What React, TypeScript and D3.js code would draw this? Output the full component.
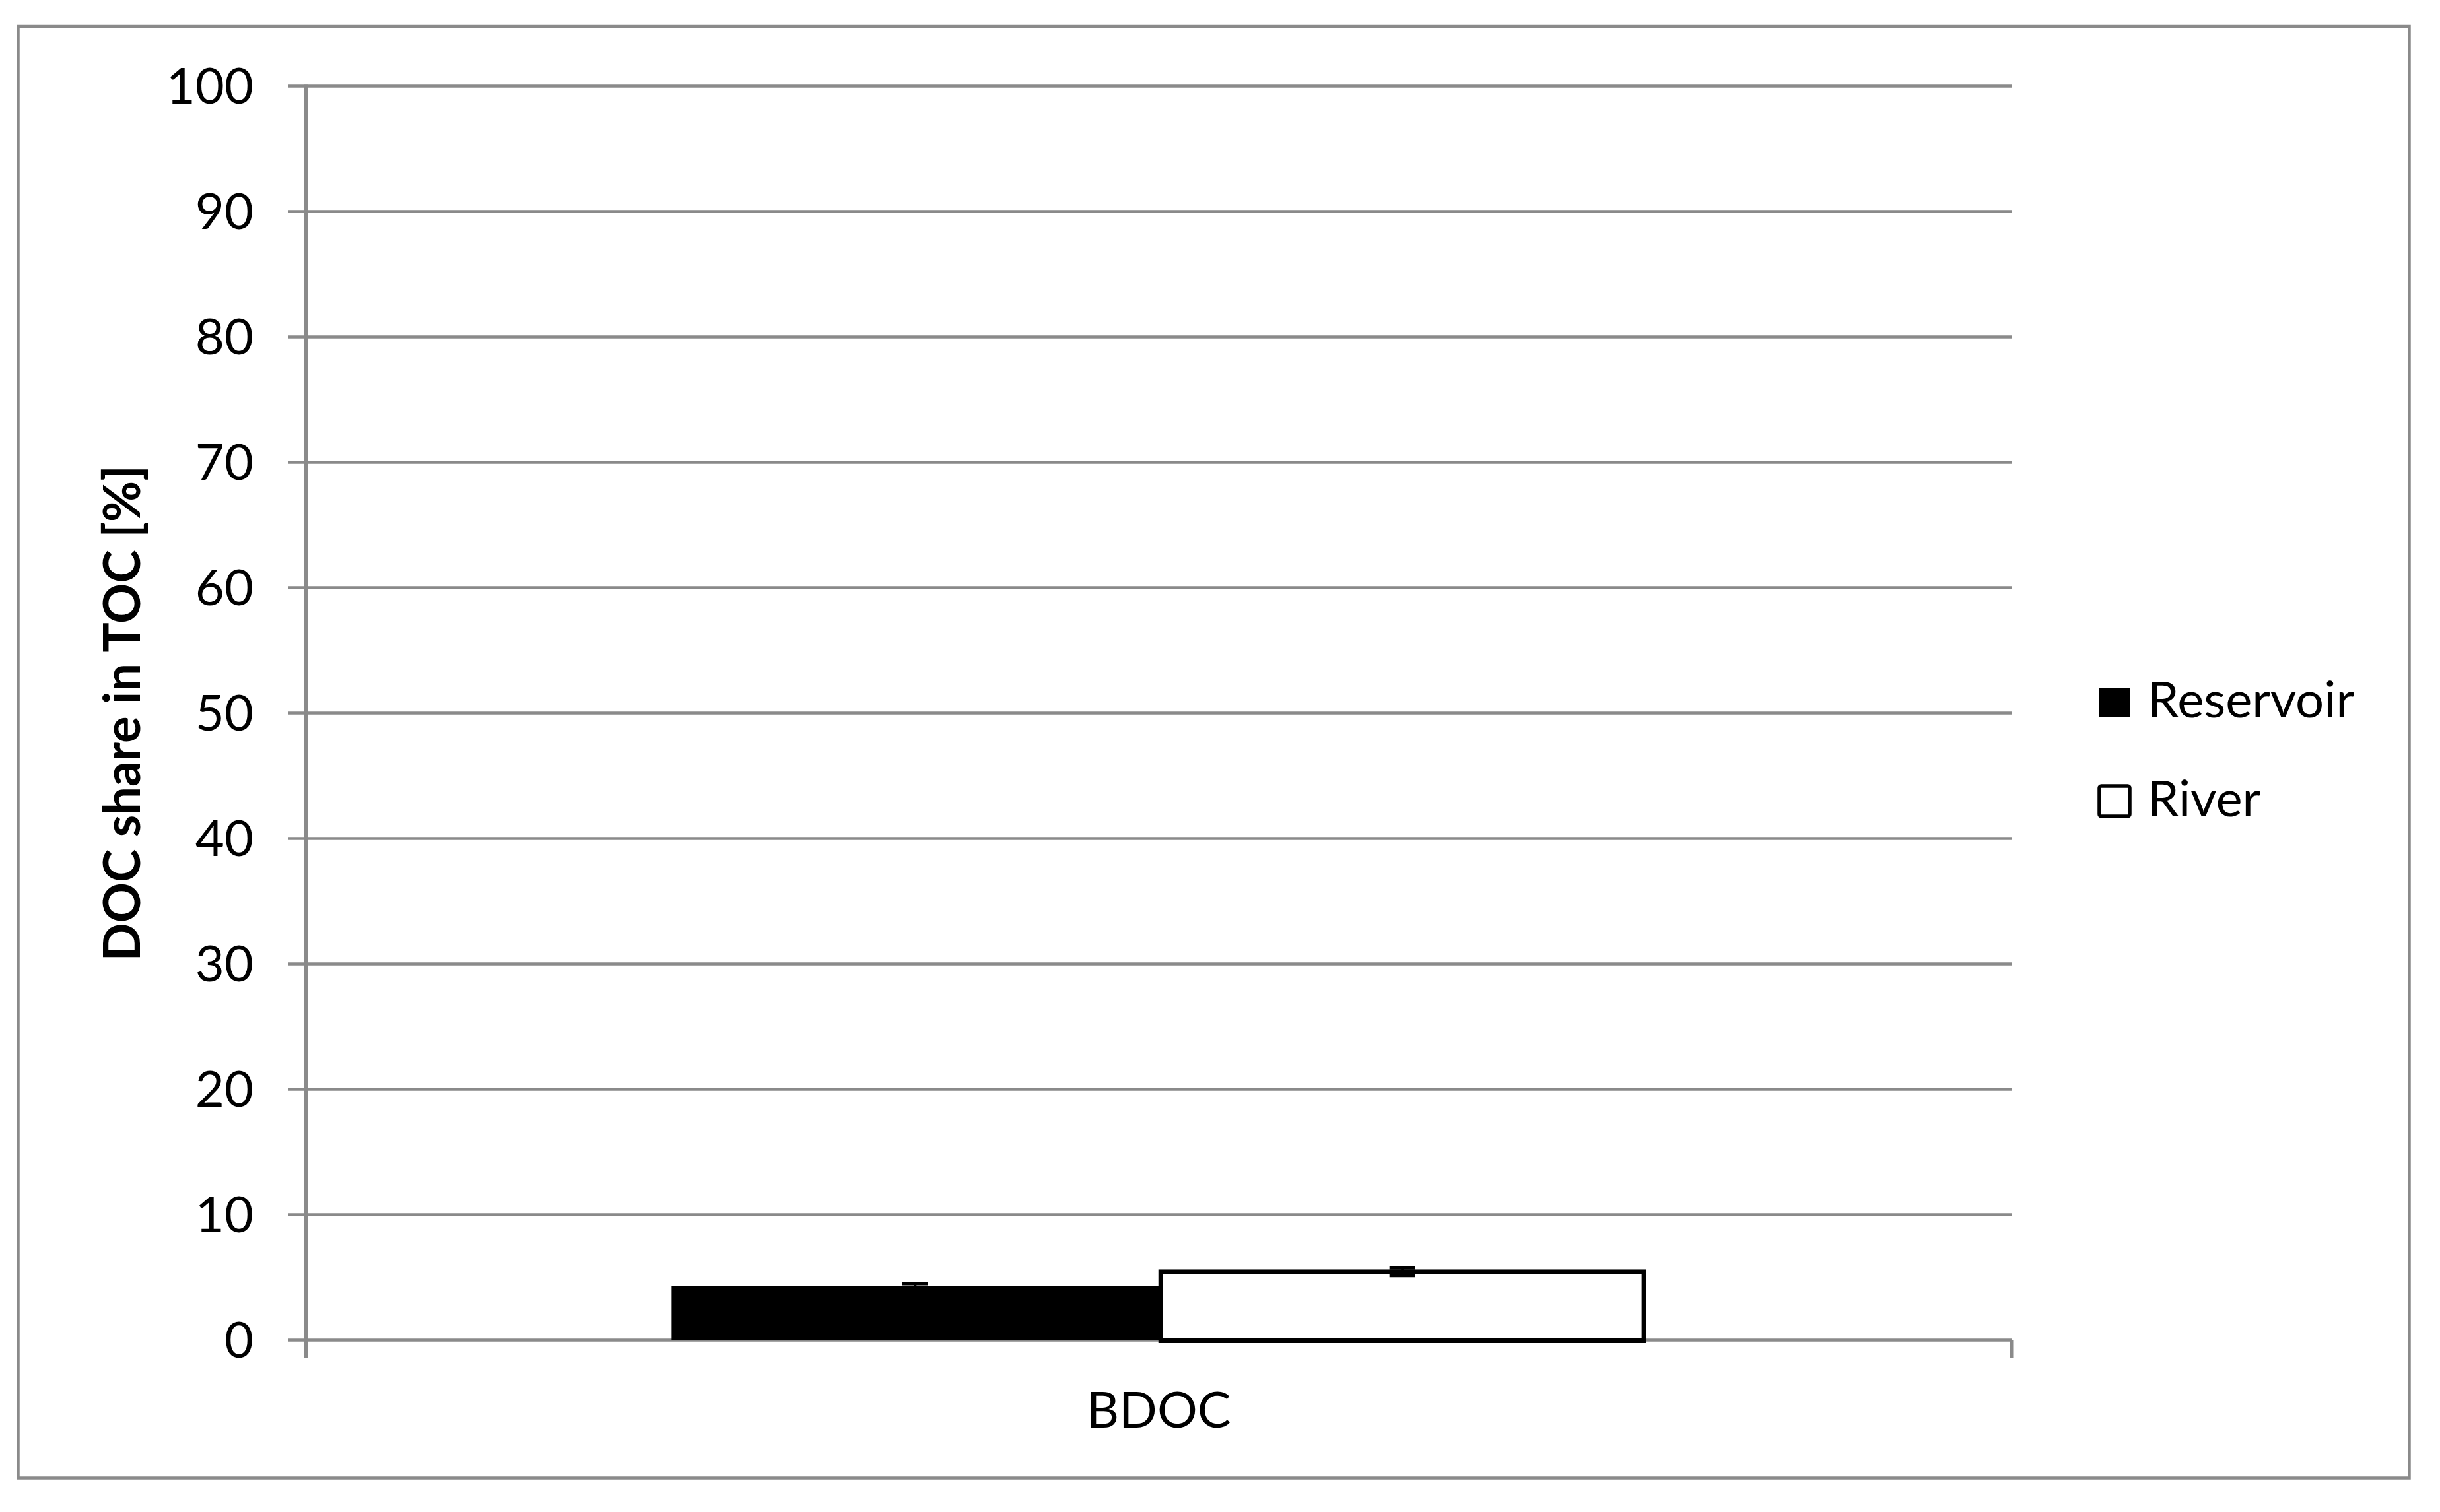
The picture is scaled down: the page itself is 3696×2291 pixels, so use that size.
import React from 'react';
import * as d3 from 'd3';

const categories = ['BDOC'];
const seriesNames = ['Reservoir', 'River'];
const seriesValues = [4.3, 5.45];
const seriesErrors = [0.2, 0.3];
const yTicks = [0, 10, 20, 30, 40, 50, 60, 70, 80, 90, 100];

const W = 3696;
const H = 2291;
const GRID = '#8a8a8a';
const FONT = 'Lato, "Open Sans", sans-serif';

export default function App() {
    const left = 463.5;
    const right = 3047;
    const top = 130.5;
    const bottom = 2030.5;

    const y = d3.scaleLinear().domain([0, 100]).range([bottom, top]);
    const x = d3.scaleBand().domain(categories).range([left, right]).paddingInner(0).paddingOuter(0.3753);
    const xs = d3.scaleBand().domain(seriesNames).range([0, x.bandwidth()]).padding(0);

    return (
        <svg width={W} height={H} style={{ position: 'absolute', left: 0, top: 0, background: '#fff' }}>
            {/* outer frame */}
            <rect x={27.5} y={40} width={3649.5 - 27.5} height={2239.5 - 40} fill="#fff" stroke={GRID} strokeWidth={4.5} />

            {/* gridlines + y ticks */}
            {yTicks.map(t => (
                <g key={t}>
                    <line x1={437} x2={right} y1={y(t)} y2={y(t)} stroke={GRID} strokeWidth={4.7} />
                    <text x={384} y={y(t)} dy="0.35em" textAnchor="end" fontFamily={FONT} fontSize={76} fill="#000">{t}</text>
                </g>
            ))}

            {/* y axis line */}
            <line x1={left} x2={left} y1={top - 2} y2={2057} stroke={GRID} strokeWidth={5} />
            {/* x axis ticks at category edges */}
            <line x1={right} x2={right} y1={bottom} y2={2057} stroke={GRID} strokeWidth={5} />

            {/* bars */}
            {categories.map(c => (
                <g key={c}>
                    {seriesNames.map((s, i) => {
                        const bx = (x(c) ?? 0) + (xs(s) ?? 0);
                        const bw = xs.bandwidth();
                        const v = seriesValues[i];
                        const cx = bx + bw / 2;
                        const e = seriesErrors[i];
                        return (
                            <g key={s}>
                                {i === 0 ? (
                                    <rect x={bx} y={y(v)} width={bw} height={bottom - y(v)} fill="#000" />
                                ) : (
                                    <rect x={bx + 3} y={y(v)} width={bw - 6} height={bottom - y(v) + 1} fill="#fff" stroke="#000" strokeWidth={7} />
                                )}
                                <line x1={cx} x2={cx} y1={y(v - e)} y2={y(v + e)} stroke="#000" strokeWidth={4} />
                                <line x1={cx - 19.5} x2={cx + 19.5} y1={y(v + e)} y2={y(v + e)} stroke="#000" strokeWidth={5} />
                                <line x1={cx - 19.5} x2={cx + 19.5} y1={y(v - e)} y2={y(v - e)} stroke="#000" strokeWidth={5} />
                            </g>
                        );
                    })}
                    <text x={(x(c) ?? 0) + x.bandwidth() / 2} y={2163} textAnchor="middle" fontFamily={FONT} fontSize={76} fill="#000">{c}</text>
                </g>
            ))}

            {/* y axis title */}
            <text transform={`translate(212, ${(top + bottom) / 2}) rotate(-90)`} textAnchor="middle" fontFamily={FONT} fontWeight="bold" fontSize={76} fill="#000">
                DOC share in TOC [%]
            </text>

            {/* legend */}
            {seriesNames.map((s, i) => (
                <g key={s} transform={`translate(0, ${i * 150})`}>
                    {i === 0 ? (
                        <rect x={3180} y={1042} width={47} height={45} fill="#000" />
                    ) : (
                        <rect x={3180} y={1041} width={46} height={46} rx={3} fill="#fff" stroke="#000" strokeWidth={5.5} />
                    )}
                    <text x={3253} y={1087} fontFamily={FONT} fontSize={76} fill="#000">{s}</text>
                </g>
            ))}
        </svg>
    );
}
